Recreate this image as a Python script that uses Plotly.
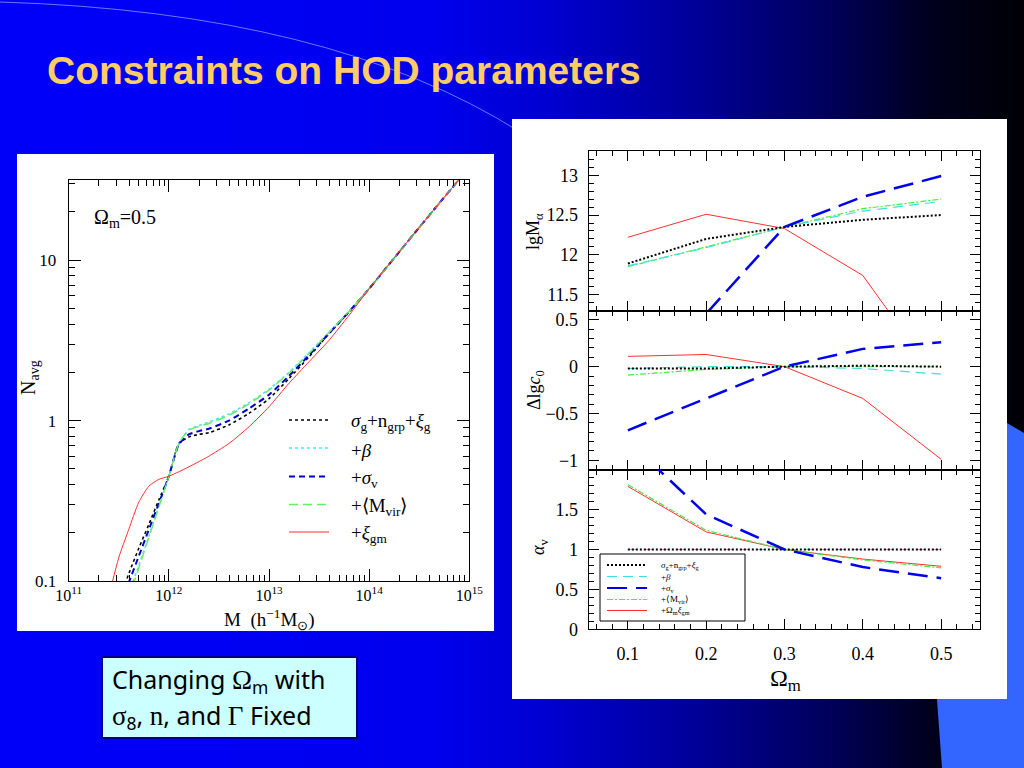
import plotly.graph_objects as go

W, H = 1024, 768
def px(x):
    return x / W
def py(y):
    return 1 - y / H

# ---------------- Left panel: N_avg(M), Omega_m = 0.5 ----------------
logM = [11.4, 11.5, 11.6, 11.7, 11.8, 11.9, 12.0, 12.1, 12.2, 12.3, 12.4,
        12.6, 12.8, 13.0, 13.2, 13.4, 13.6, 13.8, 14.0, 14.5, 14.9]
N_base = [0.05, 0.075, 0.111, 0.16, 0.225, 0.32, 0.45, 0.72, 0.79, 0.82, 0.84,
          0.94, 1.11, 1.37, 1.83, 2.50, 3.49, 4.76, 6.65, 16.0, 32.0]
N_beta = [0.045, 0.065, 0.085, 0.125, 0.19, 0.293, 0.45, 0.72, 0.88, 0.93, 0.98,
          1.10, 1.29, 1.57, 2.0, 2.65, 3.57, 4.8, 6.65, 16.0, 32.0]
N_sigv = [0.05, 0.07, 0.098, 0.143, 0.209, 0.305, 0.45, 0.71, 0.82, 0.86, 0.89,
          1.0, 1.19, 1.45, 1.90, 2.56, 3.5, 4.78, 6.65, 16.0, 32.0]
N_mvir = [0.045, 0.062, 0.08, 0.121, 0.187, 0.289, 0.45, 0.72, 0.87, 0.92, 0.96,
          1.08, 1.27, 1.55, 1.98, 2.63, 3.55, 4.8, 6.65, 16.0, 32.0]
N_xigm = [0.08, 0.14, 0.21, 0.31, 0.39, 0.43, 0.45, 0.48, 0.515, 0.555, 0.60,
          0.72, 0.915, 1.22, 1.71, 2.33, 3.17, 4.54, 6.65, 16.0, 32.0]

left_labels = ["<i>σ</i><sub>g</sub>+n<sub>grp</sub>+<i>ξ</i><sub>g</sub>",
               "+<i>β</i>", "+<i>σ</i><sub>v</sub>",
               "+⟨M<sub>vir</sub>⟩", "+<i>ξ</i><sub>gm</sub>"]
left_series = [N_base, N_beta, N_sigv, N_mvir, N_xigm]
left_colors = ["black", "#55E0FF", "#0000CC", "#66EE66", "#FF3030"]
left_dash = ["dot", "dot", "6px,4px", "9px,5px", "solid"]
left_width = [1.6, 1.6, 2.0, 1.5, 1.0]

x_ticks = [1e11, 1e12, 1e13, 1e14, 1e15]
x_ticktext = ["10<sup>11</sup>", "10<sup>12</sup>", "10<sup>13</sup>",
              "10<sup>14</sup>", "10<sup>15</sup>"]
y_ticks = [0.1, 1, 10]
y_ticktext = ["0.1", "1", "10"]

# ---------------- Right panels: parameters vs Omega_m ----------------
Om = [0.1, 0.2, 0.3, 0.4, 0.5]
lgMa = {
    "base": [11.89, 12.20, 12.35, 12.44, 12.50],
    "beta": [11.86, 12.09, 12.35, 12.55, 12.67],
    "sigv": [10.2, 11.26, 12.35, 12.73, 12.99],
    "mvir": [11.85, 12.10, 12.35, 12.58, 12.70],
    "xigm": [12.22, 12.51, 12.33, 11.74, 10.37],
}
dlgc0 = {
    "base": [-0.02, -0.02, 0.0, 0.01, 0.0],
    "beta": [-0.02, 0.0, 0.0, -0.02, -0.08],
    "sigv": [-0.68, -0.34, 0.0, 0.19, 0.26],
    "mvir": [-0.09, -0.03, 0.0, 0.0, 0.0],
    "xigm": [0.11, 0.13, 0.0, -0.34, -0.99],
}
alpha_v = {
    "base": [1.0, 1.0, 1.0, 1.0, 1.0],
    "beta": [1.0, 1.0, 1.0, 1.0, 1.0],
    "sigv": [2.36, 1.44, 1.0, 0.78, 0.64],
    "mvir": [1.81, 1.24, 1.0, 0.87, 0.77],
    "xigm": [1.79, 1.22, 1.0, 0.88, 0.79],
}
keys = ["base", "beta", "sigv", "mvir", "xigm"]
right_labels = ["<i>σ</i><sub>g</sub>+n<sub>grp</sub>+<i>ξ</i><sub>g</sub>",
                "+<i>β</i>", "+<i>σ</i><sub>v</sub>",
                "+⟨M<sub>vir</sub>⟩", "+Ω<sub>m</sub><i>ξ</i><sub>gm</sub>"]
right_colors = {"base": "black", "beta": "#44DDDD", "sigv": "#0000EE",
                "mvir": "#44EE44", "xigm": "#FF3030"}
right_dash = {"base": "2px,2px", "beta": "10px,6px", "sigv": "20px,9px",
              "mvir": "6px,2px,2px,2px", "xigm": "solid"}
right_width = {"base": 2.0, "beta": 1.2, "sigv": 2.5, "mvir": 1.2, "xigm": 1.0}

serif = "Liberation Serif"
fig = go.Figure()

# left traces
for lab, ys, c, d, w in zip(left_labels, left_series, left_colors, left_dash, left_width):
    fig.add_trace(go.Scatter(x=[10 ** v for v in logM], y=ys, mode="lines",
                             line=dict(color=c, dash=d, width=w, shape="spline", smoothing=0.6),
                             xaxis="x", yaxis="y", showlegend=False, name=lab))

# right traces
for ax, data in (("2", lgMa), ("3", dlgc0), ("4", alpha_v)):
    for k in ["xigm", "mvir", "beta", "base", "sigv"]:
        fig.add_trace(go.Scatter(x=Om, y=data[k], mode="lines",
                                 line=dict(color=right_colors[k], dash=right_dash[k], width=right_width[k]),
                                 xaxis="x" + ax, yaxis="y" + ax, showlegend=False, cliponaxis=True))

# ---------------- background decoration ----------------
shapes = []
stops = [(0, (0, 0, 250)), (430, (0, 0, 238)), (560, (0, 0, 205)), (700, (0, 0, 150)),
         (830, (0, 0, 90)), (930, (0, 0, 30)), (1024, (0, 0, 5))]
def grad(x):
    for (x0, c0), (x1, c1) in zip(stops[:-1], stops[1:]):
        if x0 <= x <= x1:
            t = (x - x0) / (x1 - x0)
            return tuple(int(round(a + (b - a) * t)) for a, b in zip(c0, c1))
    return stops[-1][1]
step = 8
for i in range(0, W, step):
    r, g, b = grad(i + step / 2)
    shapes.append(dict(type="rect", xref="paper", yref="paper", x0=px(i), x1=px(min(i + step + 0.5, W)),
                       y0=0, y1=1, fillcolor=f"rgb({r},{g},{b})", line=dict(width=0), layer="below"))
# light-blue bar bottom right
shapes.append(dict(type="path", xref="paper", yref="paper",
                   path=f"M {px(1007)} {py(423)} L {px(1024)} {py(433)} L {px(1024)} {py(768)} "
                        f"L {px(942)} {py(768)} L {px(937)} {py(700)} Z",
                   fillcolor="#3366FF", line=dict(width=0), layer="below"))
# faint arc
shapes.append(dict(type="path", xref="paper", yref="paper",
                   path=f"M {px(0)} {py(2)} Q {px(330)} {py(12)} {px(520)} {py(132)}",
                   line=dict(color="rgba(150,170,255,0.7)", width=1), layer="below"))
# white panels
shapes.append(dict(type="rect", xref="paper", yref="paper", x0=px(17), x1=px(494), y0=py(631), y1=py(154),
                   fillcolor="white", line=dict(width=0), layer="below"))
shapes.append(dict(type="rect", xref="paper", yref="paper", x0=px(512), x1=px(1007), y0=py(699), y1=py(119),
                   fillcolor="white", line=dict(width=0), layer="below"))
# text box
shapes.append(dict(type="rect", xref="paper", yref="paper", x0=px(102), x1=px(357), y0=py(738), y1=py(657),
                   fillcolor="#CCFFFF", line=dict(color="#000080", width=2), layer="below"))

annotations = []
def ann(x, y, text, size, xanchor="center", yanchor="middle", angle=0, family=serif, color="black"):
    annotations.append(dict(x=px(x), y=py(y), xref="paper", yref="paper", text=text, showarrow=False,
                            xanchor=xanchor, yanchor=yanchor, textangle=angle,
                            font=dict(family=family, size=size, color=color)))

# slide title
ann(45, 70, "<b>Constraints on HOD parameters</b>", 39, xanchor="left",
    family="Liberation Sans", color="#FFCC66")

# text box content
sf = "font-family:'Liberation Serif';font-size:27px"
ann(110, 680, f"Changing <span style=\"{sf}\">Ω</span><sub>m</sub> with", 25, xanchor="left",
    family="Noto Sans")
ann(110, 716, f"<span style=\"{sf}\">σ</span><sub>8</sub>, <span style=\"{sf}\">n</span>, and "
              f"<span style=\"{sf}\">Γ</span> Fixed", 25, xanchor="left", family="Noto Sans")

# left panel texts
ann(92, 218, "Ω<sub>m</sub>=0.5", 20, xanchor="left")
ann(269, 619, "M  (h<sup>−1</sup>M<sub>⊙</sub>)", 19)
ann(29, 378, "N<sub>avg</sub>", 20, angle=-90)

# left legend (manual)
left_rows = [420, 448, 476.5, 504.5, 532]
for lab, c, d, w, yy in zip(left_labels, left_colors, left_dash, left_width, left_rows):
    shapes.append(dict(type="line", xref="paper", yref="paper", x0=px(289), x1=px(329), y0=py(yy), y1=py(yy),
                       line=dict(color=c, dash=d, width=w)))
    ann(349, yy + 2, lab, 19, xanchor="left")

# right panel texts
ann(535, 232, "lgM<sub>α</sub>", 18, angle=-90)
ann(535, 390, "Δlg<i>c</i><sub>0</sub>", 18, angle=-90)
ann(539, 547, "<i>α</i><sub>v</sub>", 18, angle=-90)
ann(785, 680, "Ω<sub>m</sub>", 24)

# right legend (manual)
shapes.append(dict(type="rect", xref="paper", yref="paper", x0=px(600), x1=px(745), y0=py(621), y1=py(554),
                   line=dict(color="black", width=1), fillcolor="white"))
right_rows = [565, 576.5, 588, 599.5, 610.5]
for lab, k, yy in zip(right_labels, keys, right_rows):
    shapes.append(dict(type="line", xref="paper", yref="paper", x0=px(607), x1=px(647), y0=py(yy), y1=py(yy),
                       line=dict(color=right_colors[k], dash=right_dash[k], width=min(right_width[k], 2.0))))
    ann(659, yy, lab, 9, xanchor="left")

# ---------------- axes ----------------
tickfont = dict(family=serif, size=17, color="black")
common = dict(showline=True, linecolor="black", linewidth=1, mirror="allticks", ticks="inside",
              tickcolor="black", showgrid=False, zeroline=False, automargin=False)

layout = dict(
    width=W, height=H, margin=dict(l=0, r=0, t=0, b=0, pad=0, autoexpand=False),
    paper_bgcolor="rgba(0,0,0,0)", plot_bgcolor="rgba(0,0,0,0)",
    showlegend=False, shapes=shapes, annotations=annotations,
    xaxis=dict(type="log", range=[11, 15], domain=[px(68.7), px(469.3)], anchor="y",
               tickmode="array", tickvals=x_ticks, ticktext=x_ticktext, ticklen=12,
               tickfont=dict(family=serif, size=16, color="black"), ticklabelstandoff=0,
               minor=dict(ticks="inside", ticklen=6, dtick="D1", tickcolor="black", showgrid=False),
               **common),
    yaxis=dict(type="log", range=[-1, 1.5], domain=[py(581), py(180)], anchor="x",
               tickmode="array", tickvals=y_ticks, ticktext=y_ticktext, ticklen=12,
               tickfont=tickfont, ticklabelstandoff=8,
               minor=dict(ticks="inside", ticklen=6, dtick="D1", tickcolor="black", showgrid=False),
               **common),
)

rx = [px(588.7), px(980.3)]
panels = {"2": ([py(310.5), py(151.4)], [11.3, 13.3], [11.5, 12, 12.5, 13]),
          "3": ([py(469.6), py(310.5)], [-1.1, 0.6], [-1, -0.5, 0, 0.5]),
          "4": ([py(629.4), py(469.6)], [0, 2.0], [0, 0.5, 1, 1.5])}
for ax, (dom, rng, tv) in panels.items():
    layout["xaxis" + ax] = dict(range=[0.05, 0.55], domain=rx, anchor="y" + ax,
                                tickmode="linear", tick0=0.1, dtick=0.1, ticklen=10,
                                showticklabels=(ax == "4"), tickfont=dict(family=serif, size=18, color="black"),
                                ticklabelstandoff=8,
                                minor=dict(ticks="inside", ticklen=5, dtick=0.02, tick0=0.0,
                                           tickcolor="black", showgrid=False),
                                **common)
    layout["yaxis" + ax] = dict(range=rng, domain=dom, anchor="x" + ax,
                                tickmode="array", tickvals=tv, ticklen=10,
                                tickfont=dict(family=serif, size=18, color="black"), ticklabelstandoff=6,
                                minor=dict(ticks="inside", ticklen=5, dtick=0.1, tick0=0.0,
                                           tickcolor="black", showgrid=False),
                                **common)

fig.update_layout(**layout)
fig.write_html("out.html", config={"displayModeBar": False},
               post_script="document.body.style.margin='0px';document.body.style.overflow='hidden';"
                           "document.documentElement.style.overflow='hidden';")
